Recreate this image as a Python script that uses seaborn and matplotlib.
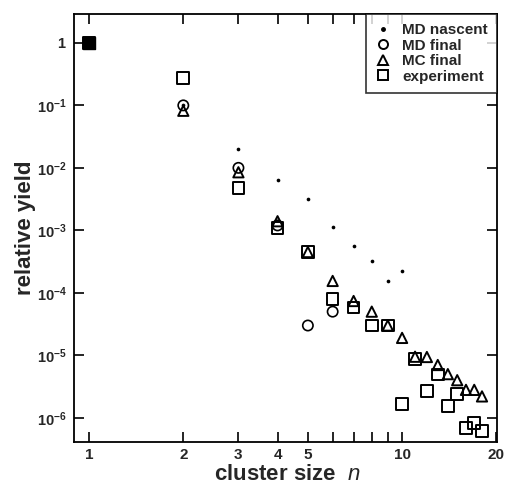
import numpy as np
import pandas as pd
import matplotlib
matplotlib.use("Agg")
import matplotlib.pyplot as plt
import seaborn as sns
from matplotlib.lines import Line2D

sns.set_theme(style="white")
plt.rcParams['font.family'] = ['Liberation Sans', 'DejaVu Sans']
plt.rcParams['mathtext.fontset'] = 'custom'
plt.rcParams['mathtext.rm'] = 'Liberation Sans'
plt.rcParams['mathtext.bf'] = 'Liberation Sans:bold'
plt.rcParams['mathtext.it'] = 'Liberation Sans:italic'

# ---- data ----
md_nascent_n = [1, 2, 3, 4, 5, 6, 7, 8, 9, 10]
md_nascent_y = [1.0, 0.1, 0.02, 0.0063, 0.0032, 1.15e-3, 5.6e-4, 3.2e-4, 1.55e-4, 2.2e-4]

md_final_n = [1, 2, 3, 4, 5, 6]
md_final_y = [1.0, 0.1, 0.01, 1.2e-3, 3.0e-5, 5.0e-5]

mc_final_n = [1, 2, 3, 4, 5, 6, 7, 8, 9, 10, 11, 12, 13, 14, 15, 16, 17, 18]
mc_final_y = [1.0, 0.082, 0.0085, 1.4e-3, 4.5e-4, 1.55e-4, 7.4e-5, 5.0e-5, 3.0e-5,
              1.9e-5, 9.5e-6, 9.4e-6, 7.0e-6, 5.0e-6, 4.0e-6, 2.8e-6, 2.8e-6, 2.2e-6]

exp_n = [1, 2, 3, 4, 5, 6, 7, 8, 9, 10, 11, 12, 13, 14, 15, 16, 17, 18]
exp_y = [1.0, 0.275, 0.0048, 1.1e-3, 4.5e-4, 8.0e-5, 5.8e-5, 3.0e-5, 3.0e-5,
         1.67e-6, 8.8e-6, 2.7e-6, 4.9e-6, 1.55e-6, 2.4e-6, 6.9e-7, 8.3e-7, 6.2e-7]

series_labels = ["MD nascent", "MD final", "MC final", "experiment"]

x_major_ticks = [1, 2, 3, 4, 5, 10, 20]
x_major_labels = ["1", "2", "3", "4", "5", "10", "20"]
x_minor_ticks = [6, 7, 8, 9]
y_ticks = [1e-6, 1e-5, 1e-4, 1e-3, 1e-2, 1e-1, 1]
y_labels = [r"$\mathbf{10^{-6}}$", r"$\mathbf{10^{-5}}$", r"$\mathbf{10^{-4}}$",
            r"$\mathbf{10^{-3}}$", r"$\mathbf{10^{-2}}$", r"$\mathbf{10^{-1}}$", r"$\mathbf{1}$"]

fig = plt.figure(figsize=(5.08, 4.86), dpi=100)
ax = fig.add_axes([74/508, 1-442/486, (497-74)/508, (442-14)/486])
ax.set_xscale('log')
ax.set_yscale('log')

sns.scatterplot(x=exp_n, y=exp_y, ax=ax, marker='s', s=70, facecolor='none',
                edgecolor='black', linewidth=1.4, zorder=3)
sns.scatterplot(x=mc_final_n, y=mc_final_y, ax=ax, marker='^', s=55, facecolor='none',
                edgecolor='black', linewidth=1.4, zorder=4)
sns.scatterplot(x=md_final_n, y=md_final_y, ax=ax, marker='o', s=55, facecolor='none',
                edgecolor='black', linewidth=1.2, zorder=5)
sns.scatterplot(x=md_nascent_n, y=md_nascent_y, ax=ax, marker='o', s=7, color='black',
                edgecolor='black', linewidth=0, zorder=6)
# n=1 point drawn as filled square (all overlap)
ax.scatter(exp_n[:1], exp_y[:1], marker='s', s=70, color='black', zorder=7)

ax.set_xlim(0.895, 20.1)
ax.set_ylim(4.1e-7, 2.9)

ax.set_xticks(x_major_ticks)
ax.set_xticklabels(x_major_labels)
ax.set_xticks(x_minor_ticks, minor=True)
ax.set_xticklabels([], minor=True)
ax.set_yticks(y_ticks)
ax.set_yticklabels(y_labels)
ax.yaxis.set_minor_locator(matplotlib.ticker.NullLocator())

ax.tick_params(axis='both', which='both', direction='in', top=True, right=True,
               bottom=True, left=True, length=7, width=1.2, color='black',
               labelsize=10.5, pad=5)
ax.tick_params(axis='x', pad=4, labelsize=11)
for lab in ax.get_xticklabels():
    lab.set_fontweight('bold')
for lab in ax.get_yticklabels():
    lab.set_fontweight('bold')

for sp in ax.spines.values():
    sp.set_color('black')
    sp.set_linewidth(1.3)

ax.set_ylabel("relative yield", fontsize=16, fontweight='bold')
ax.yaxis.set_label_coords(-0.090, 0.5)
ax.set_xlabel(r"cluster size  $n$", fontsize=16, fontweight='bold')
ax.xaxis.set_label_coords(0.505, -0.052)

handles = [
    Line2D([], [], marker='o', linestyle='none', color='black', markersize=2.5),
    Line2D([], [], marker='o', linestyle='none', markerfacecolor='none',
           markeredgecolor='black', markersize=6.5, markeredgewidth=1.4),
    Line2D([], [], marker='^', linestyle='none', markerfacecolor='none',
           markeredgecolor='black', markersize=6.5, markeredgewidth=1.4),
    Line2D([], [], marker='s', linestyle='none', markerfacecolor='none',
           markeredgecolor='black', markersize=6.5, markeredgewidth=1.4),
]
leg = ax.legend(handles, series_labels, loc='upper right', borderaxespad=0,
                prop={'weight': 'bold', 'size': 11}, frameon=True, fancybox=False,
                edgecolor='black', handletextpad=0.74, handlelength=1.0,
                labelspacing=0.1, borderpad=0.6)
leg.get_frame().set_linewidth(1.2)

fig.savefig("out.png", dpi=100)
